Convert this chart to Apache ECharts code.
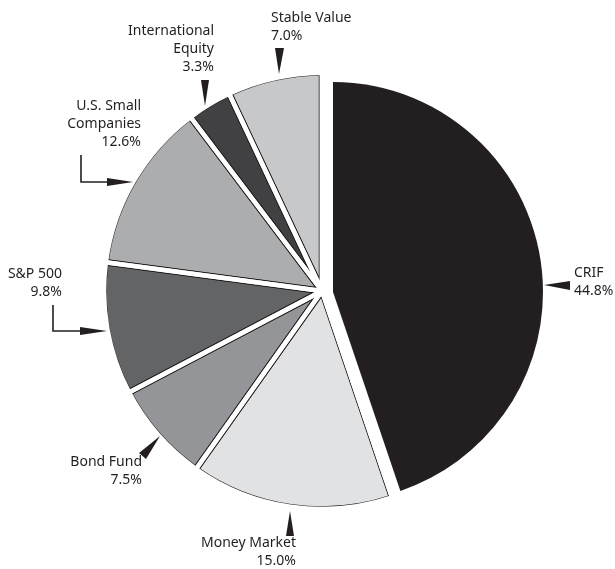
<!DOCTYPE html>
<html>
<head>
<meta charset="utf-8">
<script src="https://cdn.jsdelivr.net/npm/echarts@6/dist/echarts.min.js"></script>
<style>
  html, body { margin: 0; padding: 0; background: #ffffff; }
  #chart { width: 615px; height: 569px; }
</style>
</head>
<body>
<div id="chart"></div>
<script>
// ---- Data ----
const categories = ['CRIF', 'Money Market', 'Bond Fund', 'S&P 500', 'U.S. Small Companies', 'International Equity', 'Stable Value'];
const labelNames = ['CRIF', 'Money Market', 'Bond Fund', 'S&P 500', 'U.S. Small\nCompanies', 'International\nEquity', 'Stable Value'];
const values = [44.8, 15.0, 7.5, 9.8, 12.6, 3.3, 7.0];

// ---- Styles / layout ----
const sliceColors = ['#231f20', '#e1e2e3', '#939598', '#636466', '#acadaf', '#414042', '#c7c8ca'];
const INK = '#231f20';
const FONT = '"Noto Sans", "Open Sans", sans-serif';
const CENTER = [322, 291];
const R = 216;
const CRIF_CENTER = [333, 292];
const CRIF_R = 210;
const FAR = 720; // separator strokes extend beyond the canvas; masked outside the pie

const labelPos = [
  { x: 574, y: 264, align: 'left' },
  { x: 296, y: 534, align: 'right' },
  { x: 142, y: 453, align: 'right' },
  { x: 62,  y: 265, align: 'right' },
  { x: 141, y: 97,  align: 'right' },
  { x: 214, y: 22,  align: 'right' },
  { x: 271, y: 9,   align: 'left' }
];
const arrows = [
  [[570, 281], [570, 290], [544, 285]],
  [[286, 536], [294, 536], [290, 511]],
  [[139, 453], [146, 459], [160, 436]],
  [[80, 327], [80, 335], [107, 331]],
  [[107, 178], [107, 186], [133, 182]],
  [[201, 80], [209, 80], [205, 106]],
  [[275, 48], [284, 48], [279, 74]]
];
const elbows = [
  [[53, 305], [53, 331], [82, 331]],
  [[81, 155], [81, 182], [109, 182]]
];

const chart = echarts.init(document.getElementById('chart'), null, { renderer: 'canvas' });

function items(styleFn, labelFn) {
  return categories.map(function (name, i) {
    const it = { name: name, value: values[i], itemStyle: styleFn(i) };
    it.label = labelFn ? labelFn(i) : { show: false };
    return it;
  });
}

const labelStyle = {
  show: true,
  position: 'outside',
  formatter: function (p) { return labelNames[p.dataIndex] + '\n' + p.value.toFixed(1) + '%'; },
  fontFamily: FONT,
  fontSize: 14,
  lineHeight: 18,
  color: INK
};

function layoutFn(params) {
  const p = labelPos[params.dataIndex];
  return { x: p.x, y: p.y, align: p.align, verticalAlign: 'top', hideOverlap: false, moveOverlap: false };
}

const graphics = [];
arrows.forEach(function (a) {
  graphics.push({ type: 'polygon', shape: { points: a }, style: { fill: INK }, z: 100 });
});
elbows.forEach(function (e) {
  graphics.push({ type: 'polyline', shape: { points: e }, style: { stroke: INK, lineWidth: 1.6, fill: null }, z: 100 });
});

const common = {
  type: 'pie',
  startAngle: 90,
  clockwise: true,
  avoidLabelOverlap: false,
  emphasis: { disabled: true },
  labelLine: { show: false },
  label: { show: false },
  silent: true
};

chart.setOption({
  animation: false,
  backgroundColor: '#ffffff',
  graphic: { elements: graphics, z: 100 },
  series: [
    // 1. filled slices (all but CRIF)
    Object.assign({}, common, {
      center: CENTER, radius: R, z: 1,
      data: items(function (i) {
        return { color: sliceColors[i], borderColor: INK, borderWidth: 1.5, opacity: i === 0 ? 0 : 1 };
      })
    }),
    // 2. dark separator outline
    Object.assign({}, common, {
      center: CENTER, radius: FAR, z: 2,
      data: items(function (i) {
        return { color: 'rgba(0,0,0,0)', borderColor: INK, borderWidth: 6.5, borderJoin: 'round', opacity: i === 0 ? 0 : 1 };
      })
    }),
    // 3. white separator gap (CRIF sector area is whitened; CRIF is drawn exploded on top)
    Object.assign({}, common, {
      center: CENTER, radius: FAR, z: 3,
      data: items(function (i) {
        return { color: i === 0 ? '#ffffff' : 'rgba(0,0,0,0)', borderColor: '#ffffff', borderWidth: 4.5, borderJoin: 'round' };
      })
    }),
    // 4. white mask outside the pie
    Object.assign({}, common, {
      center: CENTER, radius: [R + 0.75, FAR], z: 4,
      data: items(function () {
        return { color: '#ffffff', borderColor: '#ffffff', borderWidth: 2 };
      })
    }),
    // 5. exploded CRIF slice + all labels
    Object.assign({}, common, {
      center: CRIF_CENTER, radius: CRIF_R, z: 5,
      labelLayout: layoutFn,
      data: items(function (i) {
        return { color: sliceColors[i], borderWidth: 0, opacity: i === 0 ? 1 : 0 };
      }, function () {
        return Object.assign({}, labelStyle, { opacity: 1 });
      })
    })
  ]
});
</script>
</body>
</html>
